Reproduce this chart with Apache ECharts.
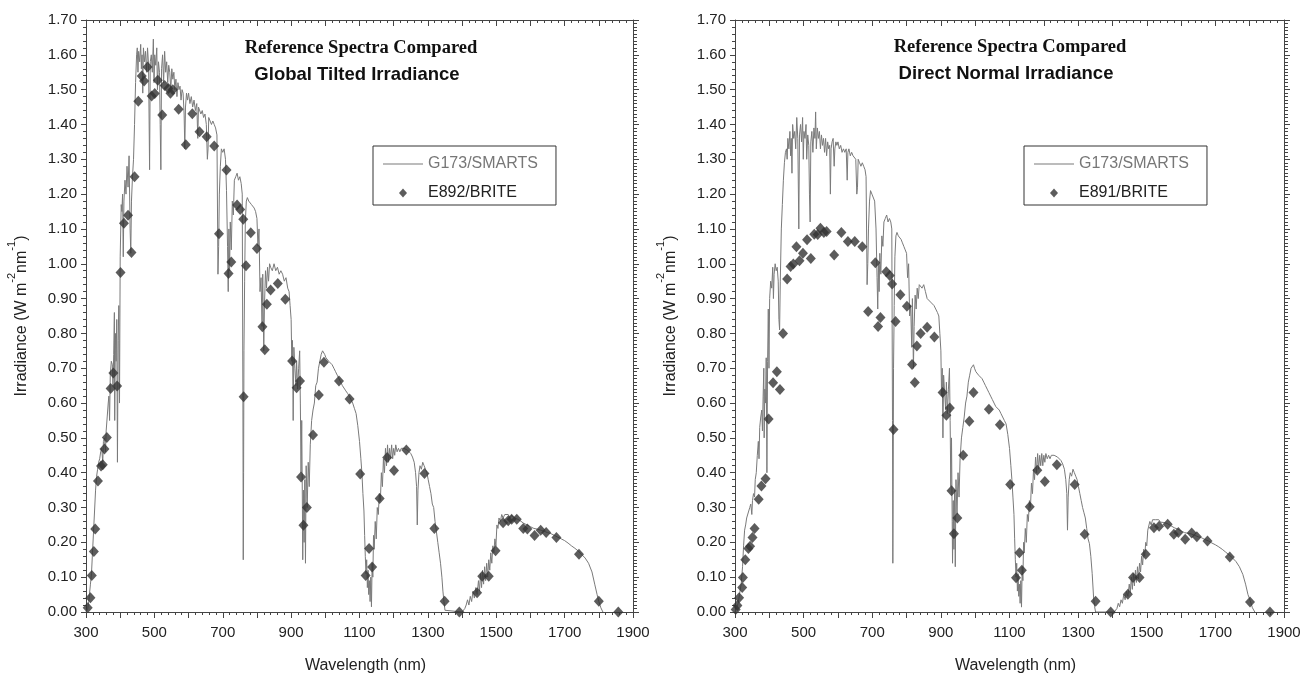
<!DOCTYPE html>
<html><head><meta charset="utf-8">
<script src="https://cdn.jsdelivr.net/npm/echarts@6.0.0/dist/echarts.min.js"></script>
<style>html,body{margin:0;padding:0;background:#fff}#c{width:1301px;height:675px}</style>
</head><body><div id="c"></div>
<script>
// ---- data ----
var xTicks = [300, 500, 700, 900, 1100, 1300, 1500, 1700, 1900];
var yTicks = [0, 0.1, 0.2, 0.3, 0.4, 0.5, 0.6, 0.7, 0.8, 0.9, 1.0, 1.1, 1.2, 1.3, 1.4, 1.5, 1.6, 1.7];
var leftTitle = ['Reference Spectra Compared', 'Global Tilted Irradiance'];
var rightTitle = ['Reference Spectra Compared', 'Direct Normal Irradiance'];
var lineName = 'G173/SMARTS';
var leftPointName = 'E892/BRITE';
var rightPointName = 'E891/BRITE';

var gtiLine = [[300,0],[303,0],[305,0.01],[308,0.03],[310,0.05],[313,0.08],[316,0.11],[319,0.17],[322,0.23],[325,0.29],[328,0.35],[331,0.39],[334,0.41],[337,0.43],[340,0.44],[343,0.46],[346,0.47],[349,0.43],[351,0.49],[354,0.50],[357,0.46],[359,0.52],[362,0.56],[365,0.60],[367,0.62],[369,0.55],[371,0.68],[374,0.72],[377,0.71],[379,0.65],[381,0.74],[383,0.86],[384,0.55],[386,0.80],[388,0.72],[390,0.84],[392,0.43],[394,0.78],[396,0.88],[398,0.60],[400,1.02],[403,1.17],[405,1.15],[407,1.20],[409,1.02],[411,1.18],[414,1.24],[417,1.20],[420,1.28],[423,1.22],[426,1.31],[429,1.10],[431,1.03],[433,1.18],[436,1.25],[439,1.30],[442,1.40],[445,1.52],[448,1.60],[450,1.62],[452,1.55],[454,1.61],[457,1.58],[460,1.63],[462,1.56],[464,1.60],[466,1.49],[468,1.62],[471,1.58],[474,1.61],[477,1.55],[480,1.62],[483,1.57],[486,1.27],[488,1.58],[491,1.60],[494,1.55],[497,1.645],[499,1.52],[501,1.60],[504,1.57],[507,1.62],[509,1.50],[512,1.58],[515,1.55],[517,1.40],[519,1.27],[521,1.56],[524,1.60],[527,1.52],[530,1.61],[533,1.55],[536,1.58],[539,1.52],[542,1.57],[545,1.55],[548,1.50],[551,1.56],[554,1.53],[557,1.55],[560,1.50],[563,1.53],[566,1.48],[569,1.52],[572,1.50],[575,1.51],[578,1.47],[581,1.50],[584,1.49],[587,1.43],[589,1.33],[591,1.45],[594,1.49],[597,1.47],[600,1.49],[604,1.46],[608,1.48],[612,1.45],[616,1.47],[620,1.44],[624,1.46],[627,1.36],[629,1.45],[632,1.45],[636,1.43],[640,1.44],[644,1.42],[648,1.43],[652,1.40],[655,1.30],[657,1.33],[659,1.42],[663,1.41],[667,1.40],[671,1.41],[675,1.40],[679,1.39],[683,1.37],[686,0.97],[688,1.05],[690,1.20],[693,1.28],[696,1.33],[700,1.32],[704,1.33],[708,1.30],[711,1.21],[714,1.05],[716,0.92],[718,1.10],[720,0.98],[722,1.12],[725,1.04],[728,1.18],[731,1.14],[734,1.24],[738,1.25],[742,1.26],[746,1.24],[750,1.25],[754,1.23],[757,1.20],[759,0.60],[760,0.15],[761,0.40],[762,0.75],[764,0.95],[766,1.12],[769,1.18],[772,1.19],[776,1.18],[780,1.18],[784,1.17],[788,1.17],[792,1.16],[796,1.15],[800,1.13],[803,1.05],[806,1.10],[809,0.92],[812,0.96],[815,0.82],[817,0.97],[820,0.75],[822,0.88],[825,0.98],[828,0.93],[831,0.99],[834,0.95],[837,1.00],[840,0.99],[845,0.98],[850,1.00],[855,0.98],[860,0.99],[865,0.97],[870,0.98],[875,0.97],[880,0.95],[885,0.96],[890,0.93],[894,0.92],[897,0.88],[900,0.84],[902,0.72],[904,0.78],[906,0.55],[908,0.76],[911,0.70],[914,0.65],[916,0.72],[919,0.64],[922,0.70],[925,0.75],[927,0.60],[929,0.40],[931,0.55],[933,0.30],[934,0.15],[936,0.35],[938,0.20],[940,0.38],[942,0.14],[944,0.42],[947,0.30],[950,0.43],[953,0.36],[956,0.48],[960,0.55],[964,0.58],[968,0.60],[972,0.65],[976,0.66],[980,0.70],[984,0.72],[988,0.74],[992,0.75],[995,0.755],[998,0.74],[1002,0.73],[1006,0.725],[1010,0.72],[1015,0.715],[1020,0.71],[1025,0.70],[1030,0.69],[1035,0.68],[1040,0.67],[1045,0.66],[1050,0.65],[1055,0.645],[1060,0.635],[1065,0.628],[1070,0.62],[1075,0.61],[1080,0.60],[1085,0.585],[1090,0.57],[1095,0.535],[1100,0.49],[1104,0.44],[1107,0.40],[1110,0.34],[1113,0.29],[1115,0.22],[1117,0.16],[1119,0.11],[1121,0.15],[1123,0.07],[1125,0.12],[1127,0.05],[1129,0.09],[1131,0.03],[1133,0.10],[1135,0.015],[1137,0.14],[1139,0.10],[1141,0.22],[1143,0.18],[1146,0.26],[1149,0.21],[1152,0.30],[1155,0.28],[1158,0.34],[1161,0.32],[1164,0.40],[1167,0.36],[1170,0.44],[1173,0.40],[1176,0.47],[1179,0.42],[1182,0.48],[1185,0.43],[1188,0.47],[1191,0.44],[1194,0.48],[1197,0.44],[1200,0.47],[1203,0.45],[1206,0.48],[1210,0.46],[1214,0.47],[1218,0.46],[1222,0.47],[1226,0.465],[1230,0.47],[1235,0.47],[1240,0.465],[1245,0.46],[1250,0.455],[1255,0.445],[1260,0.43],[1264,0.40],[1267,0.36],[1269,0.25],[1271,0.35],[1274,0.40],[1277,0.42],[1281,0.41],[1285,0.43],[1289,0.42],[1293,0.41],[1297,0.40],[1301,0.38],[1305,0.36],[1309,0.34],[1313,0.31],[1317,0.30],[1321,0.26],[1325,0.23],[1329,0.20],[1333,0.17],[1337,0.14],[1341,0.10],[1344,0.06],[1347,0.03],[1350,0.005],[1355,0],[1400,0],[1404,0],[1408,0.01],[1412,0.02],[1416,0.035],[1420,0.02],[1424,0.045],[1428,0.03],[1432,0.06],[1436,0.04],[1440,0.07],[1444,0.05],[1448,0.09],[1451,0.06],[1454,0.11],[1457,0.07],[1460,0.12],[1463,0.08],[1466,0.13],[1469,0.09],[1472,0.14],[1475,0.10],[1478,0.15],[1481,0.12],[1484,0.17],[1487,0.14],[1490,0.19],[1493,0.17],[1496,0.21],[1499,0.19],[1502,0.25],[1505,0.24],[1508,0.27],[1512,0.26],[1516,0.28],[1520,0.27],[1525,0.28],[1530,0.275],[1535,0.28],[1540,0.27],[1545,0.278],[1550,0.272],[1555,0.275],[1560,0.268],[1565,0.27],[1570,0.262],[1575,0.265],[1580,0.255],[1585,0.26],[1590,0.25],[1595,0.255],[1600,0.245],[1605,0.25],[1610,0.24],[1615,0.245],[1620,0.238],[1625,0.242],[1630,0.235],[1640,0.232],[1650,0.228],[1660,0.225],[1670,0.22],[1680,0.215],[1690,0.21],[1700,0.205],[1710,0.198],[1720,0.19],[1730,0.183],[1740,0.175],[1750,0.165],[1760,0.155],[1770,0.14],[1780,0.115],[1788,0.08],[1795,0.05],[1800,0.03],[1806,0.012],[1812,0]];

var dniLine = [[300,0],[305,0.005],[309,0.024],[313,0.05],[318,0.08],[322,0.13],[325,0.19],[328,0.235],[331,0.25],[334,0.27],[337,0.275],[340,0.29],[343,0.30],[346,0.31],[349,0.28],[351,0.32],[354,0.34],[357,0.33],[359,0.38],[362,0.40],[365,0.45],[368,0.49],[370,0.44],[372,0.53],[375,0.56],[378,0.58],[380,0.52],[382,0.62],[384,0.70],[385,0.50],[387,0.64],[389,0.60],[391,0.73],[393,0.40],[395,0.72],[397,0.87],[399,0.70],[401,0.90],[404,0.95],[407,0.93],[410,0.99],[412,0.90],[414,0.97],[417,1.00],[420,0.98],[423,0.99],[426,0.95],[428,0.84],[430,0.81],[432,0.95],[435,1.10],[438,1.17],[441,1.24],[444,1.29],[447,1.32],[450,1.33],[452,1.30],[454,1.36],[457,1.33],[460,1.38],[462,1.31],[464,1.36],[466,1.26],[468,1.40],[471,1.36],[474,1.38],[477,1.33],[480,1.42],[483,1.36],[486,1.10],[488,1.37],[491,1.40],[494,1.35],[497,1.42],[499,1.30],[501,1.38],[504,1.36],[507,1.40],[509,1.30],[512,1.37],[515,1.34],[517,1.20],[519,1.12],[521,1.35],[524,1.38],[527,1.32],[530,1.39],[533,1.36],[535,1.436],[537,1.33],[540,1.39],[543,1.36],[546,1.38],[549,1.33],[552,1.37],[555,1.34],[558,1.36],[561,1.32],[564,1.36],[567,1.31],[570,1.35],[573,1.33],[576,1.34],[578,1.20],[580,1.33],[583,1.35],[586,1.36],[589,1.28],[591,1.33],[594,1.35],[597,1.34],[600,1.35],[604,1.33],[608,1.34],[612,1.32],[616,1.33],[620,1.32],[624,1.33],[627,1.24],[629,1.32],[632,1.33],[636,1.31],[640,1.32],[644,1.31],[648,1.31],[652,1.30],[655,1.20],[657,1.22],[659,1.30],[663,1.29],[667,1.28],[671,1.29],[675,1.28],[679,1.27],[682,1.25],[685,0.94],[687,1.00],[689,1.10],[692,1.18],[695,1.21],[699,1.20],[703,1.20],[707,1.18],[711,1.10],[714,0.96],[716,0.87],[718,1.00],[720,0.92],[722,1.03],[725,0.97],[728,1.08],[731,1.05],[734,1.12],[738,1.13],[742,1.14],[746,1.12],[750,1.13],[754,1.12],[757,1.10],[759,0.55],[760,0.14],[761,0.35],[762,0.70],[764,0.88],[766,1.02],[769,1.08],[772,1.09],[776,1.08],[780,1.08],[784,1.07],[788,1.06],[792,1.05],[796,1.04],[800,1.03],[803,0.96],[806,1.00],[809,0.85],[812,0.88],[815,0.76],[817,0.90],[820,0.70],[822,0.82],[825,0.91],[828,0.87],[831,0.93],[834,0.90],[837,0.94],[840,0.94],[845,0.93],[850,0.94],[855,0.92],[860,0.90],[865,0.90],[870,0.89],[875,0.89],[880,0.88],[885,0.88],[890,0.86],[894,0.85],[897,0.80],[900,0.75],[902,0.62],[904,0.70],[906,0.50],[908,0.68],[911,0.63],[914,0.58],[916,0.66],[919,0.57],[922,0.64],[925,0.70],[927,0.55],[929,0.36],[931,0.50],[933,0.26],[934,0.14],[936,0.32],[938,0.18],[940,0.35],[942,0.13],[944,0.38],[947,0.28],[950,0.40],[953,0.33],[956,0.44],[960,0.50],[964,0.53],[968,0.56],[972,0.60],[976,0.62],[980,0.66],[984,0.68],[988,0.70],[992,0.705],[995,0.71],[998,0.70],[1002,0.69],[1006,0.685],[1010,0.68],[1015,0.675],[1020,0.67],[1025,0.66],[1030,0.65],[1035,0.64],[1040,0.63],[1045,0.62],[1050,0.61],[1055,0.60],[1060,0.59],[1065,0.585],[1070,0.58],[1075,0.57],[1080,0.56],[1085,0.55],[1090,0.54],[1095,0.51],[1100,0.47],[1104,0.42],[1107,0.38],[1110,0.33],[1113,0.28],[1115,0.21],[1117,0.15],[1119,0.10],[1121,0.14],[1123,0.06],[1125,0.11],[1127,0.045],[1129,0.08],[1131,0.025],[1133,0.09],[1135,0.014],[1137,0.13],[1139,0.09],[1141,0.20],[1143,0.17],[1146,0.24],[1149,0.20],[1152,0.28],[1155,0.26],[1158,0.32],[1161,0.30],[1164,0.37],[1167,0.34],[1170,0.41],[1173,0.38],[1176,0.445],[1179,0.40],[1182,0.455],[1185,0.41],[1188,0.45],[1191,0.42],[1194,0.455],[1197,0.42],[1200,0.45],[1203,0.43],[1206,0.455],[1210,0.44],[1214,0.45],[1218,0.44],[1222,0.45],[1226,0.445],[1230,0.45],[1235,0.448],[1240,0.445],[1245,0.44],[1250,0.435],[1255,0.425],[1260,0.41],[1264,0.38],[1267,0.34],[1269,0.235],[1271,0.33],[1274,0.38],[1277,0.40],[1281,0.39],[1285,0.41],[1289,0.40],[1293,0.39],[1297,0.38],[1301,0.36],[1305,0.34],[1309,0.32],[1313,0.30],[1317,0.285],[1321,0.27],[1325,0.24],[1329,0.21],[1333,0.196],[1337,0.16],[1341,0.11],[1345,0.043],[1348,0.015],[1351,0],[1405,0],[1409,0],[1413,0.01],[1417,0.025],[1421,0.015],[1425,0.035],[1429,0.025],[1433,0.05],[1437,0.035],[1441,0.06],[1445,0.045],[1449,0.08],[1452,0.055],[1455,0.10],[1458,0.065],[1461,0.11],[1464,0.075],[1467,0.12],[1470,0.085],[1473,0.13],[1476,0.095],[1479,0.14],[1482,0.115],[1485,0.16],[1488,0.135],[1491,0.18],[1494,0.16],[1497,0.20],[1500,0.19],[1503,0.235],[1506,0.23],[1509,0.26],[1513,0.25],[1517,0.265],[1521,0.26],[1525,0.265],[1530,0.26],[1535,0.265],[1540,0.258],[1545,0.263],[1550,0.257],[1555,0.26],[1560,0.254],[1565,0.256],[1570,0.248],[1575,0.25],[1580,0.242],[1585,0.245],[1590,0.238],[1595,0.24],[1600,0.233],[1605,0.236],[1610,0.228],[1615,0.232],[1620,0.226],[1625,0.229],[1630,0.224],[1640,0.22],[1650,0.216],[1660,0.213],[1670,0.208],[1680,0.204],[1690,0.198],[1700,0.193],[1710,0.187],[1720,0.18],[1730,0.172],[1740,0.164],[1750,0.155],[1760,0.145],[1770,0.13],[1780,0.108],[1788,0.08],[1795,0.05],[1801,0.034],[1808,0.012],[1815,0]];

var gtiPoints = [[305,0.012],[313,0.041],[317,0.105],[323,0.174],[327,0.238],[335,0.376],[344,0.419],[349,0.423],[354,0.468],[361,0.501],[372,0.642],[380,0.686],[391,0.649],[401,0.975],[411,1.116],[423,1.139],[433,1.032],[442,1.25],[453,1.467],[463,1.539],[470,1.525],[480,1.565],[492,1.482],[501,1.489],[510,1.527],[523,1.427],[530,1.512],[541,1.503],[547,1.49],[554,1.50],[571,1.444],[592,1.342],[611,1.431],[632,1.379],[653,1.365],[675,1.338],[689,1.086],[711,1.269],[717,0.972],[725,1.005],[742,1.169],[751,1.156],[760,1.128],[761,0.618],[768,0.994],[782,1.089],[800,1.044],[816,0.819],[823,0.753],[829,0.884],[840,0.925],[861,0.943],[883,0.898],[903,0.721],[916,0.644],[926,0.663],[929,0.388],[936,0.249],[946,0.30],[964,0.508],[981,0.623],[996,0.717],[1040,0.663],[1071,0.612],[1102,0.396],[1118,0.105],[1128,0.182],[1137,0.129],[1159,0.326],[1181,0.444],[1201,0.406],[1237,0.465],[1290,0.398],[1319,0.24],[1349,0.031],[1392,0.0],[1444,0.055],[1459,0.103],[1478,0.103],[1498,0.176],[1520,0.256],[1535,0.262],[1545,0.266],[1560,0.266],[1579,0.24],[1591,0.238],[1612,0.22],[1630,0.235],[1646,0.228],[1676,0.214],[1742,0.166],[1800,0.031],[1857,0.0]];

var dniPoints = [[302,0.007],[307,0.019],[312,0.041],[321,0.07],[323,0.099],[330,0.15],[339,0.182],[344,0.189],[351,0.214],[357,0.24],[369,0.324],[377,0.362],[389,0.383],[398,0.554],[411,0.658],[422,0.69],[431,0.639],[440,0.80],[452,0.956],[462,0.992],[470,0.999],[479,1.049],[488,1.009],[498,1.03],[510,1.069],[521,1.015],[531,1.085],[541,1.084],[549,1.102],[559,1.09],[567,1.093],[589,1.025],[610,1.09],[629,1.064],[649,1.064],[671,1.049],[688,0.863],[709,1.003],[717,0.82],[724,0.846],[741,0.977],[751,0.966],[758,0.942],[762,0.524],[768,0.834],[782,0.911],[801,0.878],[816,0.711],[824,0.659],[830,0.764],[841,0.80],[860,0.818],[881,0.79],[905,0.63],[916,0.565],[926,0.586],[931,0.348],[938,0.225],[948,0.27],[965,0.45],[983,0.548],[995,0.63],[1040,0.582],[1072,0.538],[1102,0.366],[1119,0.098],[1129,0.17],[1136,0.12],[1159,0.302],[1181,0.407],[1203,0.375],[1238,0.423],[1290,0.366],[1319,0.223],[1351,0.031],[1395,0.0],[1445,0.051],[1460,0.099],[1479,0.099],[1497,0.166],[1521,0.242],[1536,0.246],[1561,0.252],[1579,0.223],[1592,0.228],[1612,0.209],[1631,0.227],[1646,0.216],[1677,0.204],[1742,0.158],[1801,0.029],[1859,0.0]];

// ---- chart ----
var FONT = 'Liberation Sans, Arial, sans-serif';
var AXC = '#444';
var LINE_ICON = 'path://M0,0 L40,0 L40,1 L0,1 Z';
var DIAMOND_ICON = 'path://M0,0 M14,14 M7,2.5 L11,7 L7,11.5 L3,7 Z';
function xBottom(grid) {
  return {
    type: 'value', gridIndex: grid, position: 'bottom',
    min: xTicks[0], max: xTicks[xTicks.length - 1], interval: 100,
    name: 'Wavelength (nm)', nameLocation: 'middle', nameGap: 46,
    nameTextStyle: { fontFamily: FONT, fontSize: 16, color: '#222', padding: [0, 0, 0, 12] },
    axisLine: { show: true, onZero: false, lineStyle: { color: AXC, width: 1 } },
    axisTick: { show: true, inside: false, length: 6, lineStyle: { color: AXC } },
    minorTick: { show: true, splitNumber: 5, length: 3, lineStyle: { color: AXC } },
    splitLine: { show: false }, minorSplitLine: { show: false },
    axisLabel: { fontFamily: FONT, fontSize: 15, color: '#222', margin: 13,
      formatter: function (v) { return xTicks.indexOf(v) >= 0 ? String(v) : ''; } }
  };
}
function xTop(grid) {
  return {
    type: 'value', gridIndex: grid, position: 'top',
    min: xTicks[0], max: xTicks[xTicks.length - 1], interval: 100,
    axisLine: { show: true, onZero: false, lineStyle: { color: AXC, width: 1 } },
    axisTick: { show: true, inside: true, length: 6, lineStyle: { color: AXC } },
    minorTick: { show: true, splitNumber: 5, length: 3, lineStyle: { color: AXC } },
    splitLine: { show: false }, minorSplitLine: { show: false },
    axisLabel: { show: false }
  };
}
function yLeft(grid) {
  return {
    type: 'value', gridIndex: grid, position: 'left',
    min: yTicks[0], max: yTicks[yTicks.length - 1], interval: 0.1,
    name: '{n|Irradiance (W m}{s|-2}{n|nm}{s|-1}{n|)}', nameLocation: 'middle', nameRotate: 90, nameGap: 56,
    nameTextStyle: { fontFamily: FONT, fontSize: 16, color: '#222',
      rich: {
        n: { fontFamily: FONT, fontSize: 16, color: '#222', lineHeight: 24, verticalAlign: 'bottom' },
        s: { fontFamily: FONT, fontSize: 11, color: '#222', lineHeight: 13, verticalAlign: 'top' }
      } },
    axisLine: { show: true, onZero: false, lineStyle: { color: AXC, width: 1 } },
    axisTick: { show: true, inside: false, length: 5, lineStyle: { color: AXC } },
    minorTick: { show: true, splitNumber: 5, length: 3, lineStyle: { color: AXC } },
    splitLine: { show: false }, minorSplitLine: { show: false },
    axisLabel: { fontFamily: FONT, fontSize: 15, color: '#222', margin: 9,
      formatter: function (v) { return v.toFixed(2); } }
  };
}
function yRight(grid) {
  return {
    type: 'value', gridIndex: grid, position: 'right',
    min: yTicks[0], max: yTicks[yTicks.length - 1], interval: 0.1,
    axisLine: { show: true, onZero: false, lineStyle: { color: AXC, width: 1 } },
    axisTick: { show: true, inside: false, length: 6, lineStyle: { color: AXC } },
    minorTick: { show: true, splitNumber: 10, length: 4, lineStyle: { color: AXC } },
    splitLine: { show: false }, minorSplitLine: { show: false },
    axisLabel: { show: false }
  };
}
function legend(left, top, pointName) {
  return {
    orient: 'vertical', left: left, top: top,
    padding: [10, 18, 4, 10], itemGap: 13, itemWidth: 40, itemHeight: 14,
    borderColor: '#333', borderWidth: 1, backgroundColor: 'transparent',
    selectedMode: false,
    textStyle: { fontFamily: FONT, fontSize: 16 },
    data: [
      { name: lineName, icon: LINE_ICON, textStyle: { color: '#777' } },
      { name: pointName, icon: DIAMOND_ICON, textStyle: { color: '#222' } }
    ]
  };
}
function lineSeries(data, xi, yi) {
  return { type: 'line', name: lineName, xAxisIndex: xi, yAxisIndex: yi, data: data,
    showSymbol: false, symbol: 'none', smooth: false, animation: false,
    lineStyle: { color: '#7a7a7a', width: 1 }, itemStyle: { color: '#7a7a7a' }, z: 2 };
}
function pointSeries(name, data, xi, yi) {
  return { type: 'scatter', name: name, xAxisIndex: xi, yAxisIndex: yi, data: data,
    symbol: 'diamond', symbolSize: [10, 11], animation: false, clip: false,
    itemStyle: { color: '#333' }, z: 3 };
}
function titleText(x, y, text, serif) {
  return { type: 'text', x: x, y: y, z: 10,
    style: { text: text, align: 'center', verticalAlign: 'middle', fill: '#111',
      font: serif ? 'bold 18.5px "Liberation Serif", "Times New Roman", serif'
                  : 'bold 18.5px "Liberation Sans", Arial, sans-serif' } };
}

var chart = echarts.init(document.getElementById('c'), null, { renderer: 'canvas' });
chart.setOption({
  animation: false,
  backgroundColor: '#fff',
  grid: [
    { left: 86, top: 20, width: 547, height: 592, containLabel: false, outerBoundsMode: 'none' },
    { left: 735, top: 20, width: 549, height: 592, containLabel: false, outerBoundsMode: 'none' }
  ],
  xAxis: [xBottom(0), xTop(0), xBottom(1), xTop(1)],
  yAxis: [yLeft(0), yRight(0), yLeft(1), yRight(1)],
  legend: [legend(373, 146, leftPointName), legend(1024, 146, rightPointName)],
  series: [
    lineSeries(gtiLine, 0, 0),
    pointSeries(leftPointName, gtiPoints, 0, 0),
    lineSeries(dniLine, 2, 2),
    pointSeries(rightPointName, dniPoints, 2, 2)
  ],
  graphic: [
    titleText(361, 48, leftTitle[0], true),
    titleText(357, 75, leftTitle[1], false),
    titleText(1010, 47, rightTitle[0], true),
    titleText(1006, 74, rightTitle[1], false)
  ]
});
</script></body></html>
